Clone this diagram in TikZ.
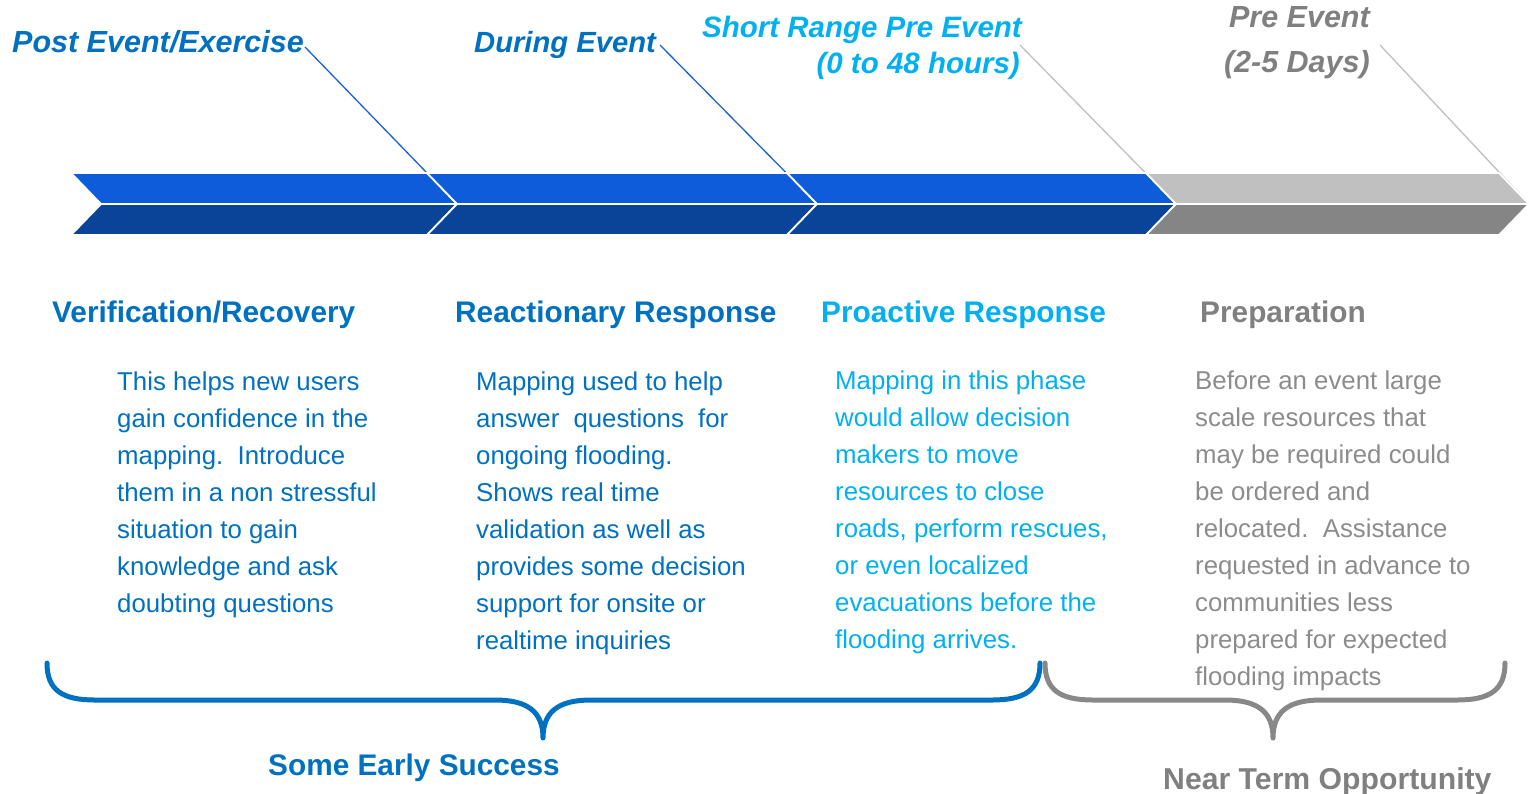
\documentclass[tikz,border=0pt]{standalone}
\usepackage{fontspec}
\setmainfont{Liberation Sans}
\definecolor{dblue}{HTML}{0070C0}
\definecolor{lblue}{HTML}{00B0F0}
\definecolor{tgray}{HTML}{8C8C8C}
\definecolor{hgray}{HTML}{808080}
\definecolor{barup}{HTML}{0F5CDB}
\definecolor{bardn}{HTML}{0A4499}
\definecolor{grup}{HTML}{C0C0C0}
\definecolor{grdn}{HTML}{858585}
\definecolor{leadblue}{HTML}{1A5FD6}
\definecolor{leadgray}{HTML}{BFBFBF}
\definecolor{brgray}{HTML}{888888}
\begin{document}
\begin{tikzpicture}[x=1pt,y=-1pt,
  toplab/.style={inner sep=0pt, font=\fontsize{30.5}{37}\selectfont\bfseries\itshape},
  head/.style={inner sep=0pt, anchor=base west, font=\fontsize{29.8}{36}\selectfont\bfseries},
  body/.style={inner sep=0pt, anchor=base west, align=left, font=\fontsize{25.8}{37.1}\selectfont},
  seg/.style={draw=white, line width=1.8pt, line join=miter},
  brace/.style={line width=5pt, line cap=round, line join=round},
  leader/.style={line width=1.3pt}]
\useasboundingbox (0,0) rectangle (1529,793);

% top labels
\node[toplab, text=dblue, anchor=base west] (post) at (12,52) {Post Event/Exercise};
\node[toplab, text=dblue, anchor=base west, font=\fontsize{29.2}{37}\selectfont\bfseries\itshape] (during) at (474,52) {During Event};
\node[toplab, text=lblue, anchor=base east, font=\fontsize{29.5}{37}\selectfont\bfseries\itshape] (short1) at (1022,37) {Short Range Pre Event};
\node[toplab, text=lblue, anchor=base east, font=\fontsize{29.5}{37}\selectfont\bfseries\itshape] (short2) at (1020,73) {(0 to 48 hours)};
\node[toplab, text=hgray, anchor=base east] (pre1) at (1370,27) {Pre Event};
\node[toplab, text=hgray, anchor=base east] (pre2) at (1370,72) {(2-5 Days)};

% leader lines
\coordinate (l1) at (305,47);
\coordinate (l2) at (660,45);
\coordinate (l3) at (1020,45);
\coordinate (l4) at (1380,45);
\coordinate (t1) at (457,204);
\coordinate (t2) at (817,204);
\coordinate (t3) at (1176,204);
\coordinate (t4) at (1529,204);
\draw[leader, leadblue] (l1) -- (t1);
\draw[leader, leadblue] (l2) -- (t2);
\draw[leader, leadgray] (l3) -- (t3);
\draw[leader, leadgray] (l4) -- (t4);

% chevron bar
\filldraw[seg, fill=barup] (71,173) -- (427,173) -- (457,204) -- (101,204) -- cycle;
\filldraw[seg, fill=bardn] (101,204) -- (457,204) -- (427,235) -- (71,235) -- cycle;
\filldraw[seg, fill=barup] (427,173) -- (787,173) -- (817,204) -- (457,204) -- cycle;
\filldraw[seg, fill=bardn] (457,204) -- (817,204) -- (787,235) -- (427,235) -- cycle;
\filldraw[seg, fill=barup] (787,173) -- (1146,173) -- (1176,204) -- (817,204) -- cycle;
\filldraw[seg, fill=bardn] (817,204) -- (1176,204) -- (1146,235) -- (787,235) -- cycle;
\filldraw[seg, fill=grup] (1146,173) -- (1499,173) -- (1529,204) -- (1176,204) -- cycle;
\filldraw[seg, fill=grdn] (1176,204) -- (1529,204) -- (1499,235) -- (1146,235) -- cycle;

% headings
\node[head, text=dblue] (h1) at (52,322) {Verification/Recovery};
\node[head, text=dblue] (h2) at (455,322) {Reactionary Response};
\node[head, text=lblue] (h3) at (821,322) {Proactive Response};
\node[head, text=hgray] (h4) at (1200,322) {Preparation};

% bodies (anchor = baseline of last line)
\node[body, text=dblue] (b1) at (117,612.6) {This helps new users\\gain confidence in the\\mapping.\ \ Introduce\\them in a non stressful\\situation to gain\\knowledge and ask\\doubting questions};
\node[body, text=dblue] (b2) at (476,649.7) {Mapping used to help\\answer\hspace{0.55em}questions\hspace{0.55em}for\\ongoing flooding.\\Shows real time\\validation as well as\\provides some decision\\support for onsite or\\realtime inquiries};
\node[body, text=lblue] (b3) at (835,648.7) {Mapping in this phase\\would allow decision\\makers to move\\resources to close\\roads, perform rescues,\\or even localized\\evacuations before the\\flooding arrives.};
\node[body, text=tgray] (b4) at (1195,685.8) {Before an event large\\scale resources that\\may be required could\\be ordered and\\relocated.\ \ Assistance\\requested in advance to\\communities less\\prepared for expected\\flooding impacts};

% braces
\draw[brace, dblue] (47,663) .. controls (47,690) and (62,700) .. (95,700) -- (495,700)
  .. controls (528,700) and (543,712) .. (543,738)
  .. controls (543,712) and (558,700) .. (591,700) -- (992,700)
  .. controls (1025,700) and (1040,690) .. (1040,663);
\draw[brace, brgray] (1045,663) .. controls (1045,690) and (1060,700) .. (1093,700) -- (1225,700)
  .. controls (1258,700) and (1273,712) .. (1273,738)
  .. controls (1273,712) and (1288,700) .. (1321,700) -- (1457,700)
  .. controls (1490,700) and (1505,690) .. (1505,663);

\node[head, text=dblue] (early) at (268,775) {Some Early Success};
\node[head, text=hgray, font=\fontsize{30.2}{36}\selectfont\bfseries] (near) at (1163,789) {Near Term Opportunity};
\end{tikzpicture}
\end{document}
